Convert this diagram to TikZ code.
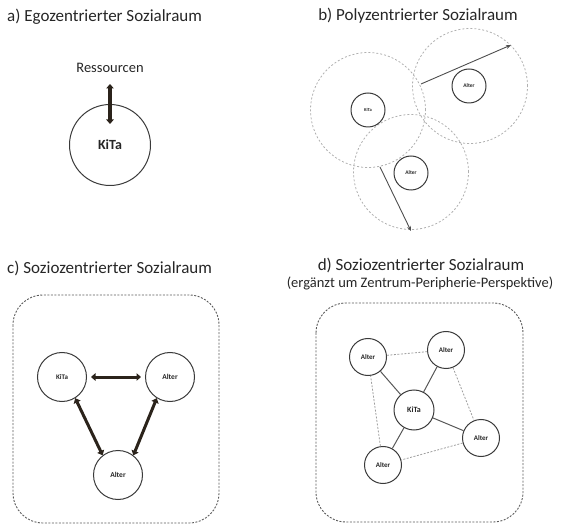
\documentclass[tikz,border=0pt]{standalone}
\usepackage{fontspec}
\setmainfont{Carlito}
\usetikzlibrary{arrows.meta}
\definecolor{txt}{HTML}{262626}
\definecolor{ring}{HTML}{3A3A3A}
\definecolor{dring}{HTML}{B0B0B0}
\definecolor{arr}{HTML}{2B231B}
\definecolor{boxc}{HTML}{5A5A5A}
\tikzset{
  title/.style={font=\fontsize{17}{20}\selectfont, text=txt, inner sep=0pt},
  agent/.style={circle, draw=ring, line width=1pt, text=txt, font=\bfseries, inner sep=0pt},
  zone/.style={circle, draw=dring, line width=0.8pt, dash pattern=on 2pt off 2pt, inner sep=0pt, minimum size=115pt},
  bigarrow/.style={draw=arr, line width=3.2pt, {Triangle[width=7.5pt,length=4.5pt]}-{Triangle[width=7.5pt,length=4.5pt]}},
  thinarrow/.style={draw=ring!90, line width=0.9pt, -{Stealth[width=4pt,length=5pt]}},
  frame/.style={draw=boxc, line width=0.9pt, dash pattern=on 2pt off 1.5pt, rounded corners=30pt},
  tie/.style={draw=ring!85, line width=1pt},
  looseTie/.style={draw=dring!90!black, line width=0.8pt, dash pattern=on 2pt off 1.5pt}
}
\begin{document}
\begin{tikzpicture}[x=1pt,y=-1pt]
\useasboundingbox (0,0) rectangle (562,526);
% ---------- a)
\node[title, anchor=west] (ta) at (7,17) {a) Egozentrierter Sozialraum};
\node[text=txt, font=\fontsize{14.5}{16}\selectfont, inner sep=0pt] (res) at (110,68) {Ressourcen};
\node[agent, minimum size=81pt, font=\fontsize{14}{16}\selectfont\bfseries] (ka) at (110,145) {KiTa};
\coordinate (a1) at (110,84);
\coordinate (a2) at (110,124);
\draw[bigarrow] (a1) -- (a2);
% ---------- b)
\node[title] (tb) at (418,16) {b) Polyzentrierter Sozialraum};
\node[zone] (z1) at (368,110) {};
\node[zone] (z2) at (470,86) {};
\node[zone] (z3) at (411,172) {};
\node[agent, minimum size=34pt, font=\fontsize{4.5}{5}\selectfont\bfseries] (kb) at (368,110) {KiTa};
\node[agent, minimum size=34pt, font=\fontsize{5.5}{6}\selectfont\bfseries] (ab1) at (469,86) {Alter};
\node[agent, minimum size=34pt, font=\fontsize{5.5}{6}\selectfont\bfseries] (ab2) at (411,173) {Alter};
\coordinate (b1s) at (421,84);
\coordinate (b1e) at (511,45);
\coordinate (b2s) at (380,167);
\coordinate (b2e) at (411,231);
\draw[thinarrow] (b1s) -- (b1e);
\draw[thinarrow] (b2s) -- (b2e);
% ---------- c)
\node[title, anchor=west] (tc) at (7,268) {c) Soziozentrierter Sozialraum};
\draw[frame] (13,295) rectangle (219,523);
\node[agent, minimum size=49pt, font=\fontsize{7}{8}\selectfont\bfseries] (kc) at (62,377) {KiTa};
\node[agent, minimum size=49pt, font=\fontsize{7.5}{8}\selectfont\bfseries] (ac1) at (170,377) {Alter};
\node[agent, minimum size=49pt, font=\fontsize{7.5}{8}\selectfont\bfseries] (ac2) at (118,475) {Alter};
\draw[bigarrow, line width=3pt] ([xshift=4pt]kc.east) -- ([xshift=-4pt]ac1.west);
\draw[bigarrow, line width=3pt] (kc.-58) -- (ac2.128);
\draw[bigarrow, line width=3pt] (ac1.-122) -- (ac2.52);
% ---------- d)
\node[title] (td) at (421,265) {d) Soziozentrierter Sozialraum};
\node[text=txt, font=\fontsize{14.5}{16}\selectfont, inner sep=0pt] (sd) at (420,283) {(ergänzt um Zentrum-Peripherie-Perspektive)};
\draw[frame] (316,303) rectangle (523,522);
\node[agent, minimum size=40pt, font=\fontsize{8}{9}\selectfont\bfseries] (kd) at (414,410) {KiTa};
\node[agent, minimum size=37pt, font=\fontsize{7}{8}\selectfont\bfseries] (d1) at (368,357) {Alter};
\node[agent, minimum size=37pt, font=\fontsize{7}{8}\selectfont\bfseries] (d2) at (446,350) {Alter};
\node[agent, minimum size=37pt, font=\fontsize{7}{8}\selectfont\bfseries] (d3) at (481,438) {Alter};
\node[agent, minimum size=37pt, font=\fontsize{7}{8}\selectfont\bfseries] (d4) at (383,465) {Alter};
\draw[tie] (kd) -- (d1);
\draw[tie] (kd) -- (d2);
\draw[tie] (kd) -- (d3);
\draw[tie] (kd) -- (d4);
\draw[looseTie] (d1) -- (d2);
\draw[looseTie] (d2) -- (d3);
\draw[looseTie] (d3) -- (d4);
\draw[looseTie] (d4) -- (d1);
\end{tikzpicture}
\end{document}
